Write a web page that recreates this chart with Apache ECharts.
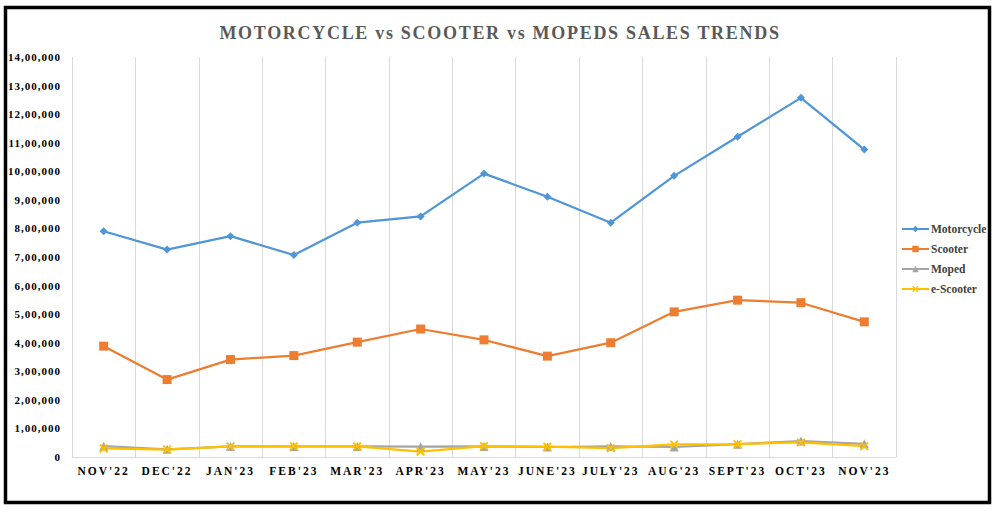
<!DOCTYPE html>
<html>
<head>
<meta charset="utf-8">
<script src="https://cdn.jsdelivr.net/npm/echarts@6/dist/echarts.min.js"></script>
<style>
html,body{margin:0;padding:0;background:#fff;}
#c{width:1000px;height:513px;}
</style>
</head>
<body>
<div id="c"></div>
<script>
const categories = ["NOV'22","DEC'22","JAN'23","FEB'23","MAR'23","APR'23","MAY'23","JUNE'23","JULY'23","AUG'23","SEPT'23","OCT'23","NOV'23"];
const motorcycle = [790000,726000,773000,707000,820000,842000,992000,911000,820000,984000,1121000,1257000,1076000];
const scooter = [388000,271000,341000,355000,402000,448000,410000,353000,400000,508000,549000,540000,473000];
const moped = [38000,27000,37000,37000,37000,36000,37000,35000,37000,35000,45000,56000,46000];
const eScooter = [30000,26000,37000,38000,37000,19000,38000,36000,31000,44000,45000,51000,38000];
const seriesNames = ['Motorcycle','Scooter','Moped','e-Scooter'];
const titleText = 'MOTORCYCLE vs SCOOTER vs MOPEDS SALES TRENDS';
const yTicks = {min:0, max:1400000, interval:100000};

const fmt = v => {
  if (v === 0) return '0';
  const s = String(v);
  const last3 = s.slice(-3);
  let rest = s.slice(0, -3);
  const parts = [];
  while (rest.length > 2) { parts.unshift(rest.slice(-2)); rest = rest.slice(0, -2); }
  if (rest) parts.unshift(rest);
  return parts.join(',') + ',' + last3;
};

const xSym = 'path://M0,1.5L1.5,0L5,3.5L8.5,0L10,1.5L6.5,5L10,8.5L8.5,10L5,6.5L1.5,10L0,8.5L3.5,5Z';
const serif = '"Liberation Serif", "Times New Roman", serif';

const chart = echarts.init(document.getElementById('c'), null, {renderer:'svg'});
const mk = (name, data, color, symbol, size) => ({
  name, type:'line', data, symbol, symbolSize:size,
  lineStyle:{color, width:2.25},
  itemStyle:{color},
  emphasis:{disabled:true}
});
chart.setOption({
  animation:false,
  title:{
    text:titleText,
    left:'center', top:19,
    textStyle:{fontFamily:serif, fontWeight:'bold', fontSize:18, color:'#595959'}
  },
  legend:{
    orient:'vertical', left:896, top:218, itemGap:8, itemWidth:27, itemHeight:8,
    textStyle:{fontFamily:serif, fontWeight:'bold', fontSize:11.5, color:'#404040', padding:[0,0,0,-3]},
    data:seriesNames
  },
  graphic:[{
    type:'rect', shape:{x:5.5, y:7.5, width:984, height:495},
    style:{fill:'none', stroke:'#000', lineWidth:3.5}, silent:true
  }],
  grid:{left:72, right:104, top:57, bottom:56, containLabel:false},
  xAxis:{
    type:'category', data:categories, boundaryGap:true,
    axisLine:{show:true, lineStyle:{color:'#d9d9d9', width:1}},
    axisTick:{show:false},
    splitLine:{show:true, lineStyle:{color:'#d9d9d9', width:1}},
    axisLabel:{fontFamily:serif, fontWeight:'bold', fontSize:11.5, color:'#000', margin:8, interval:0}
  },
  yAxis:{
    type:'value', min:yTicks.min, max:yTicks.max, interval:yTicks.interval,
    axisLine:{show:false}, axisTick:{show:false},
    splitLine:{show:false},
    axisLabel:{fontFamily:serif, fontWeight:'bold', fontSize:11, color:'#000', margin:11, formatter:fmt}
  },
  series:[
    mk(seriesNames[0], motorcycle, '#5096d6', 'diamond', 8),
    mk(seriesNames[1], scooter, '#ed7d31', 'rect', 9),
    mk(seriesNames[2], moped, '#a5a5a5', 'triangle', 9),
    mk(seriesNames[3], eScooter, '#ffc000', xSym, 9)
  ]
});

function spacing(){
  document.querySelectorAll('#c text').forEach(t => {
    const s = t.textContent;
    let ls = 0;
    if (s === titleText) ls = 1.7;
    else if (categories.indexOf(s) >= 0) ls = 2;
    else if (/^[0-9,]+$/.test(s)) ls = 1;
    if (ls) t.style.letterSpacing = ls + 'px';
  });
}
chart.on('finished', spacing);
spacing();
setTimeout(spacing, 50);
</script>
</body>
</html>
